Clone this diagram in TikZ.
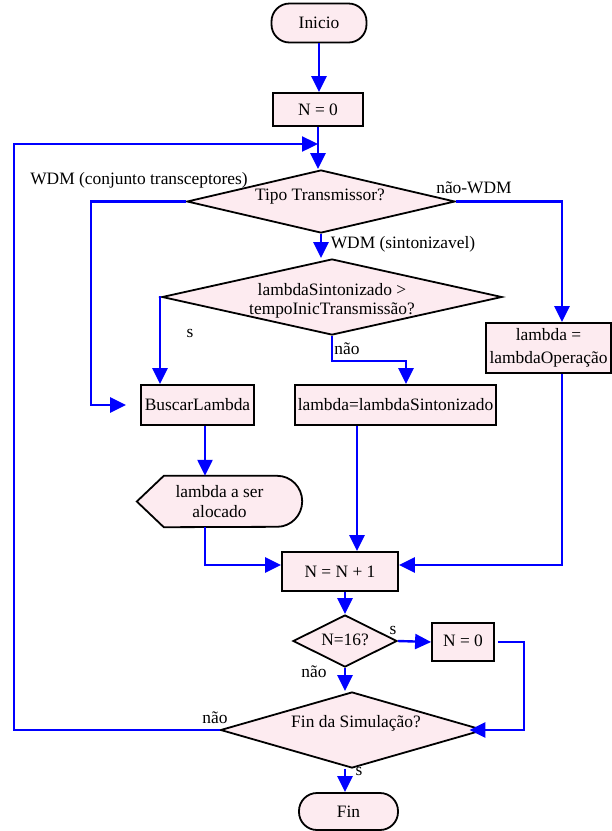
\documentclass[tikz,border=0pt]{standalone}
\usepackage{fontspec}
\setmainfont{Liberation Serif}
\usetikzlibrary{shapes.geometric,arrows.meta,backgrounds}
\definecolor{nodepink}{RGB}{253,235,240}
\definecolor{connblue}{RGB}{0,0,255}
\begin{document}
\begin{tikzpicture}[x=1pt,y=-1pt,
  font=\fontsize{17.4}{20}\selectfont,
  conn/.style={draw=connblue,line width=2.4pt,-{Triangle[length=16pt,width=15pt]}},
  line/.style={draw=connblue,line width=2.4pt},
  box/.style={draw=black,line width=1.8pt,fill=nodepink,inner sep=0pt,align=center},
  term/.style={box,rounded corners=18pt},
  dia/.style={draw=black,line width=1.8pt,fill=nodepink,diamond,inner sep=0pt},
  txt/.style={inner sep=0pt,align=center}]
\useasboundingbox (0,0) rectangle (612,831);
% columns
\coordinate (loopL) at (14,0);
\coordinate (lcol) at (91,0);
\coordinate (scol) at (160,0);
\coordinate (ccol) at (205,0);
\coordinate (mcol) at (357,0);
\coordinate (rcol) at (562,0);
\coordinate (rcol2) at (524,0);
\coordinate (mergeY) at (0,565);
\coordinate (naoTurn) at (406,361);
\coordinate (loopEnd) at (318,144);
% nodes
\node[term,minimum width=95pt,minimum height=39pt] (inicio) at (319,23) {Inicio};
\node[box,minimum width=90pt,minimum height=33pt] (n0) at (318,109.5) {N = 0};
\node[dia,minimum width=268pt,minimum height=63pt] (d1) at (321,201.5) {};
\node[txt] (d1t) at (320,197) {Tipo Transmissor?};
\node[dia,minimum width=340pt,minimum height=76pt] (d2) at (332,297) {};
\node[txt,font=\fontsize{17.4}{18.5}\selectfont] (d2t) at (332,301) {lambdaSintonizado >\\tempoInicTransmissão?};
\node[box,minimum width=125pt,minimum height=50pt,font=\fontsize{17.4}{22.5}\selectfont] (opbox) at (548.5,348) {lambda =\\lambdaOperação};
\node[box,minimum width=113pt,minimum height=40pt] (busc) at (197.5,405) {BuscarLambda};
\node[box,minimum width=201pt,minimum height=40pt] (sint) at (395.5,405) {lambda=lambdaSintonizado};
\node[txt,minimum width=165pt,minimum height=51pt,font=\fontsize{17.4}{19.5}\selectfont] (disp) at (219.5,501.5) {lambda a ser\\alocado};
\begin{scope}[on background layer]
\draw[black,line width=1.8pt,fill=nodepink] (disp.west) -- ([xshift=27pt]disp.north west) -- ([xshift=-25pt]disp.north east) arc[start angle=90,end angle=-90,x radius=25pt,y radius=25.5pt] -- ([xshift=27pt]disp.south west) -- cycle;
\end{scope}
\node[box,minimum width=116pt,minimum height=39pt] (nn1) at (340,571.5) {N = N + 1};
\node[dia,minimum width=104pt,minimum height=52pt] (n16) at (345,641) {};
\node[txt] (n16t) at (345,640) {N=16?};
\node[box,minimum width=62pt,minimum height=38pt] (n0b) at (463,642) {\raisebox{2pt}{N = 0}};
\node[dia,minimum width=263pt,minimum height=76pt] (d3) at (352,730) {};
\node[txt] (d3t) at (356,723) {Fin da Simulação?};
\node[term,minimum width=99pt,minimum height=37pt] (fin) at (348.5,811.5) {Fin};
% labels
\node[txt] (lwdm) at (139,180) {WDM (conjunto transceptores)};
\node[txt] (lnwdm) at (474,188) {não-WDM};
\node[txt] (lsint) at (403,244) {WDM (sintonizavel)};
\node[txt] (ls1) at (190,333) {s};
\node[txt] (ln1) at (347,349) {não};
\node[txt] (ls2) at (393,630) {s};
\node[txt] (ln2) at (314,672) {não};
\node[txt] (ln3) at (215,718) {não};
\node[txt] (ls3) at (359,771) {s};
% connectors
\draw[conn] (inicio.south) -- (inicio.south |- n0.north);
\draw[conn] (n0.south) -- (n0.south |- d1.north);
\draw[conn] (d3.west) -- (d3.west -| loopL) -- (loopL |- loopEnd) -- (loopEnd);
\draw[conn,shorten >=14pt] (d1.west) -| (lcol |- busc.west) -- (busc.west);
\draw[conn] (d1.east) -| (rcol |- opbox.north);
\draw[conn] (d1.south) -- (d1.south |- d2.north);
\draw[conn] (d2.west) -| (scol |- busc.north);
\draw[conn] (d2.south) |- (naoTurn) -- (naoTurn |- sint.north);
\draw[conn] (rcol |- opbox.south) |- (nn1.east |- mergeY);
\draw[conn] (mcol |- sint.south) -- (mcol |- nn1.north);
\draw[conn] (ccol |- busc.south) -- (ccol |- disp.north);
\draw[conn] (ccol |- disp.south) |- (nn1.west |- mergeY);
\draw[conn] (n16.north |- nn1.south) -- (n16.north);
\draw[conn] (n16.east) -- (n0b.west);
\draw[conn,shorten <=3pt,shorten >=-15pt] (n0b.east) -| (rcol2 |- d3.east) -- (d3.east);
\draw[conn] (n16.south) -- (n16.south |- d3.north);
\draw[conn] (n16.south |- d3.south) -- (n16.south |- fin.north);
\end{tikzpicture}
\end{document}
